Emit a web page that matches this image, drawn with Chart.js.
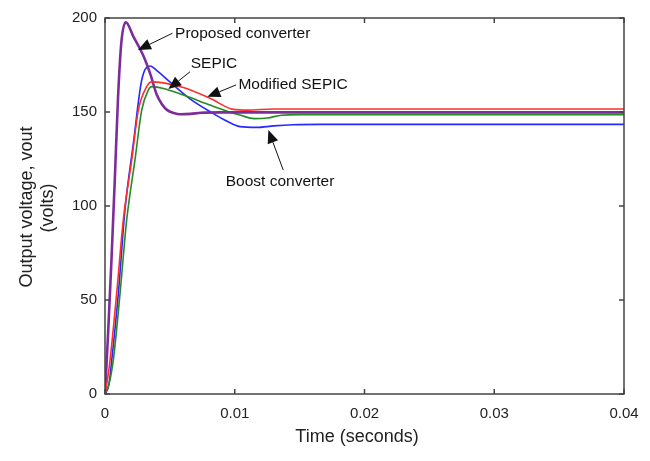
<!DOCTYPE html>
<html>
<head>
<meta charset="utf-8">
<script src="https://cdn.jsdelivr.net/npm/chart.js@4.4.1/dist/chart.umd.min.js"></script>
<style>
  html, body { margin: 0; padding: 0; background: #fff; }
</style>
</head>
<body>
<canvas id="chart" width="650" height="461"></canvas>
<script>
// time (s) and output voltage (V)
const proposedT = [0, 0.00023, 0.00049, 0.00075, 0.001, 0.00126, 0.0016, 0.0022, 0.00295, 0.0035, 0.004, 0.0044, 0.0048, 0.0053, 0.0058, 0.0066, 0.0074, 0.009, 0.012, 0.02, 0.03, 0.04];
const proposedV = [0, 31, 70, 113, 157, 187, 197.7, 190, 180, 170, 159, 154, 151, 149.5, 148.8, 149, 149.6, 149.8, 149.8, 149.8, 149.8, 149.8];

const boostT = [0, 0.0003, 0.00052, 0.00103, 0.00154, 0.00218, 0.00283, 0.00347, 0.004, 0.005, 0.00655, 0.00832, 0.0093, 0.0104, 0.0117, 0.013, 0.0145, 0.0166, 0.02, 0.03, 0.04];
const boostV = [0, 5, 18, 53.5, 98, 133, 167, 174.5, 172, 166, 157, 149.3, 145.5, 142.2, 141.8, 142.6, 143.2, 143.4, 143.4, 143.4, 143.4];

const sepicT = [0, 0.0002, 0.00039, 0.0009, 0.00141, 0.00206, 0.00257, 0.00321, 0.0036, 0.0045, 0.00604, 0.00809, 0.00989, 0.011, 0.013, 0.02, 0.03, 0.04];
const sepicV = [0, 8, 18, 53.5, 92.5, 124.5, 151, 163.5, 166, 165.5, 163, 157.3, 151.4, 151, 151.6, 151.6, 151.6, 151.6];

const modSepicT = [0, 0.0003, 0.00064, 0.00116, 0.00167, 0.00231, 0.00283, 0.00334, 0.0036, 0.0045, 0.00604, 0.00809, 0.0096, 0.0104, 0.0115, 0.0125, 0.0136, 0.015, 0.02, 0.03, 0.04];
const modSepicV = [0, 5, 18, 53.5, 92.5, 124.5, 151, 161.7, 163.5, 162.5, 159, 153.7, 150, 148.4, 146.5, 146.8, 148.3, 148.6, 148.6, 148.6, 148.6];

const xTicks = [0, 0.01, 0.02, 0.03, 0.04];
const xTickLabels = ['0', '0.01', '0.02', '0.03', '0.04'];
const yTicks = [0, 50, 100, 150, 200];
const yTickLabels = ['0', '50', '100', '150', '200'];

// labels with arrows (text anchor, arrow tail, arrow tip in data units)
const notes = [
    { text: 'Proposed converter', align: 'left', t: 0.0054, v: 191.9, tailT: 0.0052, tailV: 191.9, tipT: 0.00254, tipV: 183 },
    { text: 'SEPIC', align: 'center', t: 0.0084, v: 175.9, tailT: 0.00655, tailV: 171.4, tipT: 0.00488, tipV: 162.2 },
    { text: 'Modified SEPIC', align: 'left', t: 0.01028, v: 164.4, tailT: 0.0101, tailV: 164.4, tipT: 0.00789, tipV: 158.1 },
    { text: 'Boost converter', align: 'center', t: 0.01349, v: 112.9, tailT: 0.01374, tailV: 119.1, tipT: 0.01259, tipV: 140.4 }
];

const FONT = '"Liberation Sans", Arial, Helvetica, sans-serif';

function toPoints(ts, vs) {
    return ts.map((t, i) => ({ x: t, y: vs[i] }));
}

const framePlugin = {
    id: 'frame',
    afterDraw(chart) {
        const ctx = chart.ctx;
        const a = chart.chartArea;
        const x = chart.scales.x;
        const y = chart.scales.y;
        ctx.save();

        // box with inward ticks
        ctx.strokeStyle = '#444';
        ctx.lineWidth = 1.5;
        ctx.strokeRect(a.left, a.top, a.right - a.left, a.bottom - a.top);
        ctx.beginPath();
        xTicks.forEach(v => {
            const px = x.getPixelForValue(v);
            ctx.moveTo(px, a.bottom); ctx.lineTo(px, a.bottom - 5);
            ctx.moveTo(px, a.top); ctx.lineTo(px, a.top + 5);
        });
        yTicks.forEach(v => {
            const py = y.getPixelForValue(v);
            ctx.moveTo(a.left, py); ctx.lineTo(a.left + 5, py);
            ctx.moveTo(a.right, py); ctx.lineTo(a.right - 5, py);
        });
        ctx.stroke();

        // axis titles
        ctx.fillStyle = '#222';
        ctx.font = '18px ' + FONT;
        ctx.textAlign = 'center';
        ctx.textBaseline = 'middle';
        ctx.fillText('Time (seconds)', 357, 437);
        ctx.save();
        ctx.translate(27, 207);
        ctx.rotate(-Math.PI / 2);
        ctx.fillText('Output voltage, vout', 0, 0);
        ctx.restore();
        ctx.save();
        ctx.translate(48, 208);
        ctx.rotate(-Math.PI / 2);
        ctx.fillText('(volts)', 0, 0);
        ctx.restore();

        // annotations
        ctx.font = '15.5px ' + FONT;
        ctx.strokeStyle = '#111';
        ctx.fillStyle = '#111';
        ctx.lineWidth = 1;
        notes.forEach(n => {
            ctx.textAlign = n.align;
            ctx.fillText(n.text, x.getPixelForValue(n.t), y.getPixelForValue(n.v));
            const x0 = x.getPixelForValue(n.tailT), y0 = y.getPixelForValue(n.tailV);
            const x1 = x.getPixelForValue(n.tipT), y1 = y.getPixelForValue(n.tipV);
            const ang = Math.atan2(y1 - y0, x1 - x0);
            const len = 13, half = 5.5;
            const bx = x1 - len * Math.cos(ang), by = y1 - len * Math.sin(ang);
            ctx.beginPath();
            ctx.moveTo(x0, y0);
            ctx.lineTo(bx, by);
            ctx.stroke();
            ctx.beginPath();
            ctx.moveTo(x1, y1);
            ctx.lineTo(bx + half * Math.sin(ang), by - half * Math.cos(ang));
            ctx.lineTo(bx - half * Math.sin(ang), by + half * Math.cos(ang));
            ctx.closePath();
            ctx.fill();
        });
        ctx.restore();
    }
};

const ctx = document.getElementById('chart').getContext('2d');

const chart = new Chart(ctx, {
    type: 'scatter',
    data: {
        datasets: [
            {
                label: 'Proposed converter',
                data: toPoints(proposedT, proposedV),
                borderColor: 'rgb(125,45,155)',
                borderWidth: 2.6,
                order: 1
            },
            {
                label: 'SEPIC',
                data: toPoints(sepicT, sepicV),
                borderColor: 'rgb(255,45,45)',
                borderWidth: 1.6,
                order: 0
            },
            {
                label: 'Modified SEPIC',
                data: toPoints(modSepicT, modSepicV),
                borderColor: 'rgb(35,140,35)',
                borderWidth: 1.6,
                order: 2
            },
            {
                label: 'Boost converter',
                data: toPoints(boostT, boostV),
                borderColor: 'rgb(40,40,255)',
                borderWidth: 1.6,
                order: 3
            }
        ]
    },
    options: {
        responsive: false,
        animation: false,
        showLine: true,
        elements: {
            point: { radius: 0 },
            line: { cubicInterpolationMode: 'monotone', fill: false }
        },
        layout: { padding: { top: 18, right: 26, left: 0, bottom: 0 } },
        plugins: {
            legend: { display: false },
            tooltip: { enabled: false }
        },
        scales: {
            x: {
                type: 'linear',
                min: 0,
                max: 0.04,
                afterBuildTicks: s => { s.ticks = xTicks.map(v => ({ value: v })); },
                afterFit: s => { s.height = 67; },
                grid: { display: false, drawTicks: false },
                border: { display: false },
                ticks: {
                    padding: 11,
                    maxRotation: 0,
                    color: '#222',
                    font: { family: FONT, size: 15 },
                    callback: (val, i) => xTickLabels[i]
                }
            },
            y: {
                min: 0,
                max: 200,
                afterBuildTicks: s => { s.ticks = yTicks.map(v => ({ value: v })); },
                afterFit: s => { s.width = 105; },
                grid: { display: false, drawTicks: false },
                border: { display: false },
                ticks: {
                    padding: 8,
                    color: '#222',
                    font: { family: FONT, size: 15 },
                    callback: (val, i) => yTickLabels[i]
                }
            }
        }
    },
    plugins: [framePlugin]
});
</script>
</body>
</html>
